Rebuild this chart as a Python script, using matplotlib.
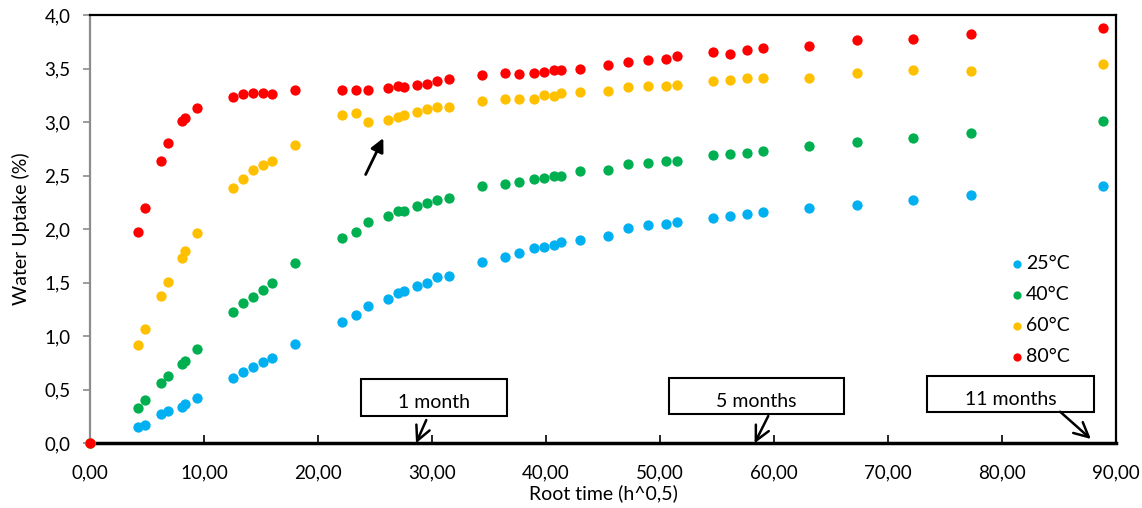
import matplotlib.pyplot as plt
from matplotlib.patches import Rectangle
from matplotlib.ticker import FuncFormatter, MultipleLocator

plt.rcParams['font.family'] = ['Lato', 'DejaVu Sans']

# root time (h^0.5), shared by all four series
root_time = [0.0, 4.21, 4.82, 6.20, 6.84, 8.04, 8.36, 9.41, 12.52, 13.45, 14.30,
             15.18, 15.94, 18.01, 22.13, 23.31, 24.39, 26.17, 27.04, 27.54,
             28.66, 29.59, 30.41, 31.52, 34.36, 36.40, 37.66, 38.92, 39.85,
             40.70, 41.29, 42.98, 45.41, 47.22, 48.92, 50.55, 51.49, 54.65,
             56.14, 57.66, 59.01, 63.10, 67.25, 72.22, 77.31, 88.89]

uptake_25 = [0.0, 0.15, 0.17, 0.27, 0.30, 0.34, 0.37, 0.42, 0.61, 0.67, 0.71,
             0.76, 0.80, 0.93, 1.13, 1.20, 1.28, 1.35, 1.40, 1.42, 1.47, 1.50,
             1.55, 1.56, 1.69, 1.74, 1.78, 1.82, 1.83, 1.85, 1.88, 1.90, 1.94,
             2.01, 2.04, 2.05, 2.07, 2.10, 2.12, 2.14, 2.16, 2.20, 2.23, 2.27,
             2.32, 2.40]
uptake_40 = [0.0, 0.33, 0.40, 0.56, 0.63, 0.74, 0.77, 0.88, 1.23, 1.31, 1.37,
             1.43, 1.50, 1.68, 1.92, 1.97, 2.07, 2.12, 2.17, 2.17, 2.22, 2.24,
             2.27, 2.29, 2.40, 2.42, 2.44, 2.47, 2.48, 2.50, 2.50, 2.54, 2.55,
             2.61, 2.62, 2.64, 2.64, 2.69, 2.70, 2.71, 2.73, 2.78, 2.81, 2.85,
             2.90, 3.01]
uptake_60 = [0.0, 0.92, 1.07, 1.38, 1.51, 1.73, 1.80, 1.96, 2.38, 2.47, 2.55,
             2.60, 2.64, 2.79, 3.07, 3.08, 3.00, 3.02, 3.05, 3.07, 3.09, 3.12,
             3.14, 3.14, 3.20, 3.22, 3.22, 3.22, 3.25, 3.24, 3.27, 3.28, 3.29,
             3.33, 3.34, 3.34, 3.35, 3.38, 3.39, 3.41, 3.41, 3.41, 3.46, 3.49,
             3.48, 3.54]
uptake_80 = [0.0, 1.97, 2.20, 2.64, 2.80, 3.01, 3.04, 3.13, 3.23, 3.26, 3.27,
             3.27, 3.26, 3.30, 3.30, 3.30, 3.30, 3.32, 3.34, 3.33, 3.35, 3.36,
             3.38, 3.40, 3.44, 3.46, 3.45, 3.46, 3.47, 3.49, 3.49, 3.50, 3.53,
             3.56, 3.58, 3.59, 3.62, 3.65, 3.64, 3.67, 3.69, 3.71, 3.77, 3.78,
             3.82, 3.88]

series = [
    ("25°C", uptake_25, "#00B0F0"),
    ("40°C", uptake_40, "#00B050"),
    ("60°C", uptake_60, "#FFC000"),
    ("80°C", uptake_80, "#FF0000"),
]

# time markers: label, box (x0, y0, x1, y1), arrow tail, arrow head
markers = [
    ("1 month", (23.8, 0.255, 36.6, 0.597), (29.5, 0.217), (28.6, 0.0)),
    ("5 months", (50.8, 0.273, 66.1, 0.606), (59.5, 0.255), (58.3, 0.0)),
    ("11 months", (73.4, 0.292, 88.1, 0.628), (85.1, 0.295), (87.8, 0.04)),
]

fig = plt.figure(figsize=(11.42, 5.08), dpi=100)
ax = fig.add_axes([0.0788, 0.1274, 0.8984, 0.8431])

for label, vals, color in series:
    ax.scatter(root_time, vals, s=55, color=color, label=label,
               linewidths=0, zorder=3, clip_on=False)

ax.set_xlim(0, 90)
ax.set_ylim(0, 4.0)
ax.xaxis.set_major_locator(MultipleLocator(10))
ax.yaxis.set_major_locator(MultipleLocator(0.5))
ax.xaxis.set_major_formatter(FuncFormatter(lambda v, p: f"{v:.2f}".replace(".", ",")))
ax.yaxis.set_major_formatter(FuncFormatter(lambda v, p: f"{v:.1f}".replace(".", ",")))

ax.tick_params(axis="x", direction="in", length=6, width=1.2, color="black",
               labelsize=13.5, pad=15)
ax.tick_params(axis="y", direction="out", length=5, width=1.2, color="#8c8c8c",
               labelsize=13.5, pad=9)

for side in ("top", "right"):
    ax.spines[side].set_linewidth(1.6)
    ax.spines[side].set_color("black")
ax.spines["bottom"].set_linewidth(2.5)
ax.spines["left"].set_color("#8c8c8c")
ax.spines["left"].set_linewidth(1.6)

ax.set_xlabel("Root time (h^0,5)", fontsize=14, labelpad=2)
ax.set_ylabel("Water Uptake (%)", fontsize=14, labelpad=10)

ax.legend(loc="upper left", bbox_to_anchor=(0.886, 0.458), frameon=False,
          fontsize=14, handlelength=1.0, handletextpad=0.0, labelspacing=0.72,
          markerscale=0.8, borderaxespad=0)

for text, (x0, y0, x1, y1), tail, head in markers:
    ax.add_patch(Rectangle((x0, y0), x1 - x0, y1 - y0, fill=False,
                           edgecolor="black", linewidth=1.5, zorder=4))
    ax.text((x0 + x1) / 2, y0 + (y1 - y0) * 0.36, text, ha="center",
            va="center", fontsize=14, zorder=5)
    ax.annotate("", xy=head, xytext=tail,
                arrowprops=dict(arrowstyle="->", color="black", lw=1.8,
                                mutation_scale=26, shrinkA=0, shrinkB=0),
                annotation_clip=False, zorder=5)

ax.annotate("", xy=(25.73, 2.85), xytext=(24.18, 2.51),
            arrowprops=dict(arrowstyle="-|>", color="black", lw=2,
                            mutation_scale=20, shrinkA=0, shrinkB=0))

fig.savefig("out.png", dpi=100)
